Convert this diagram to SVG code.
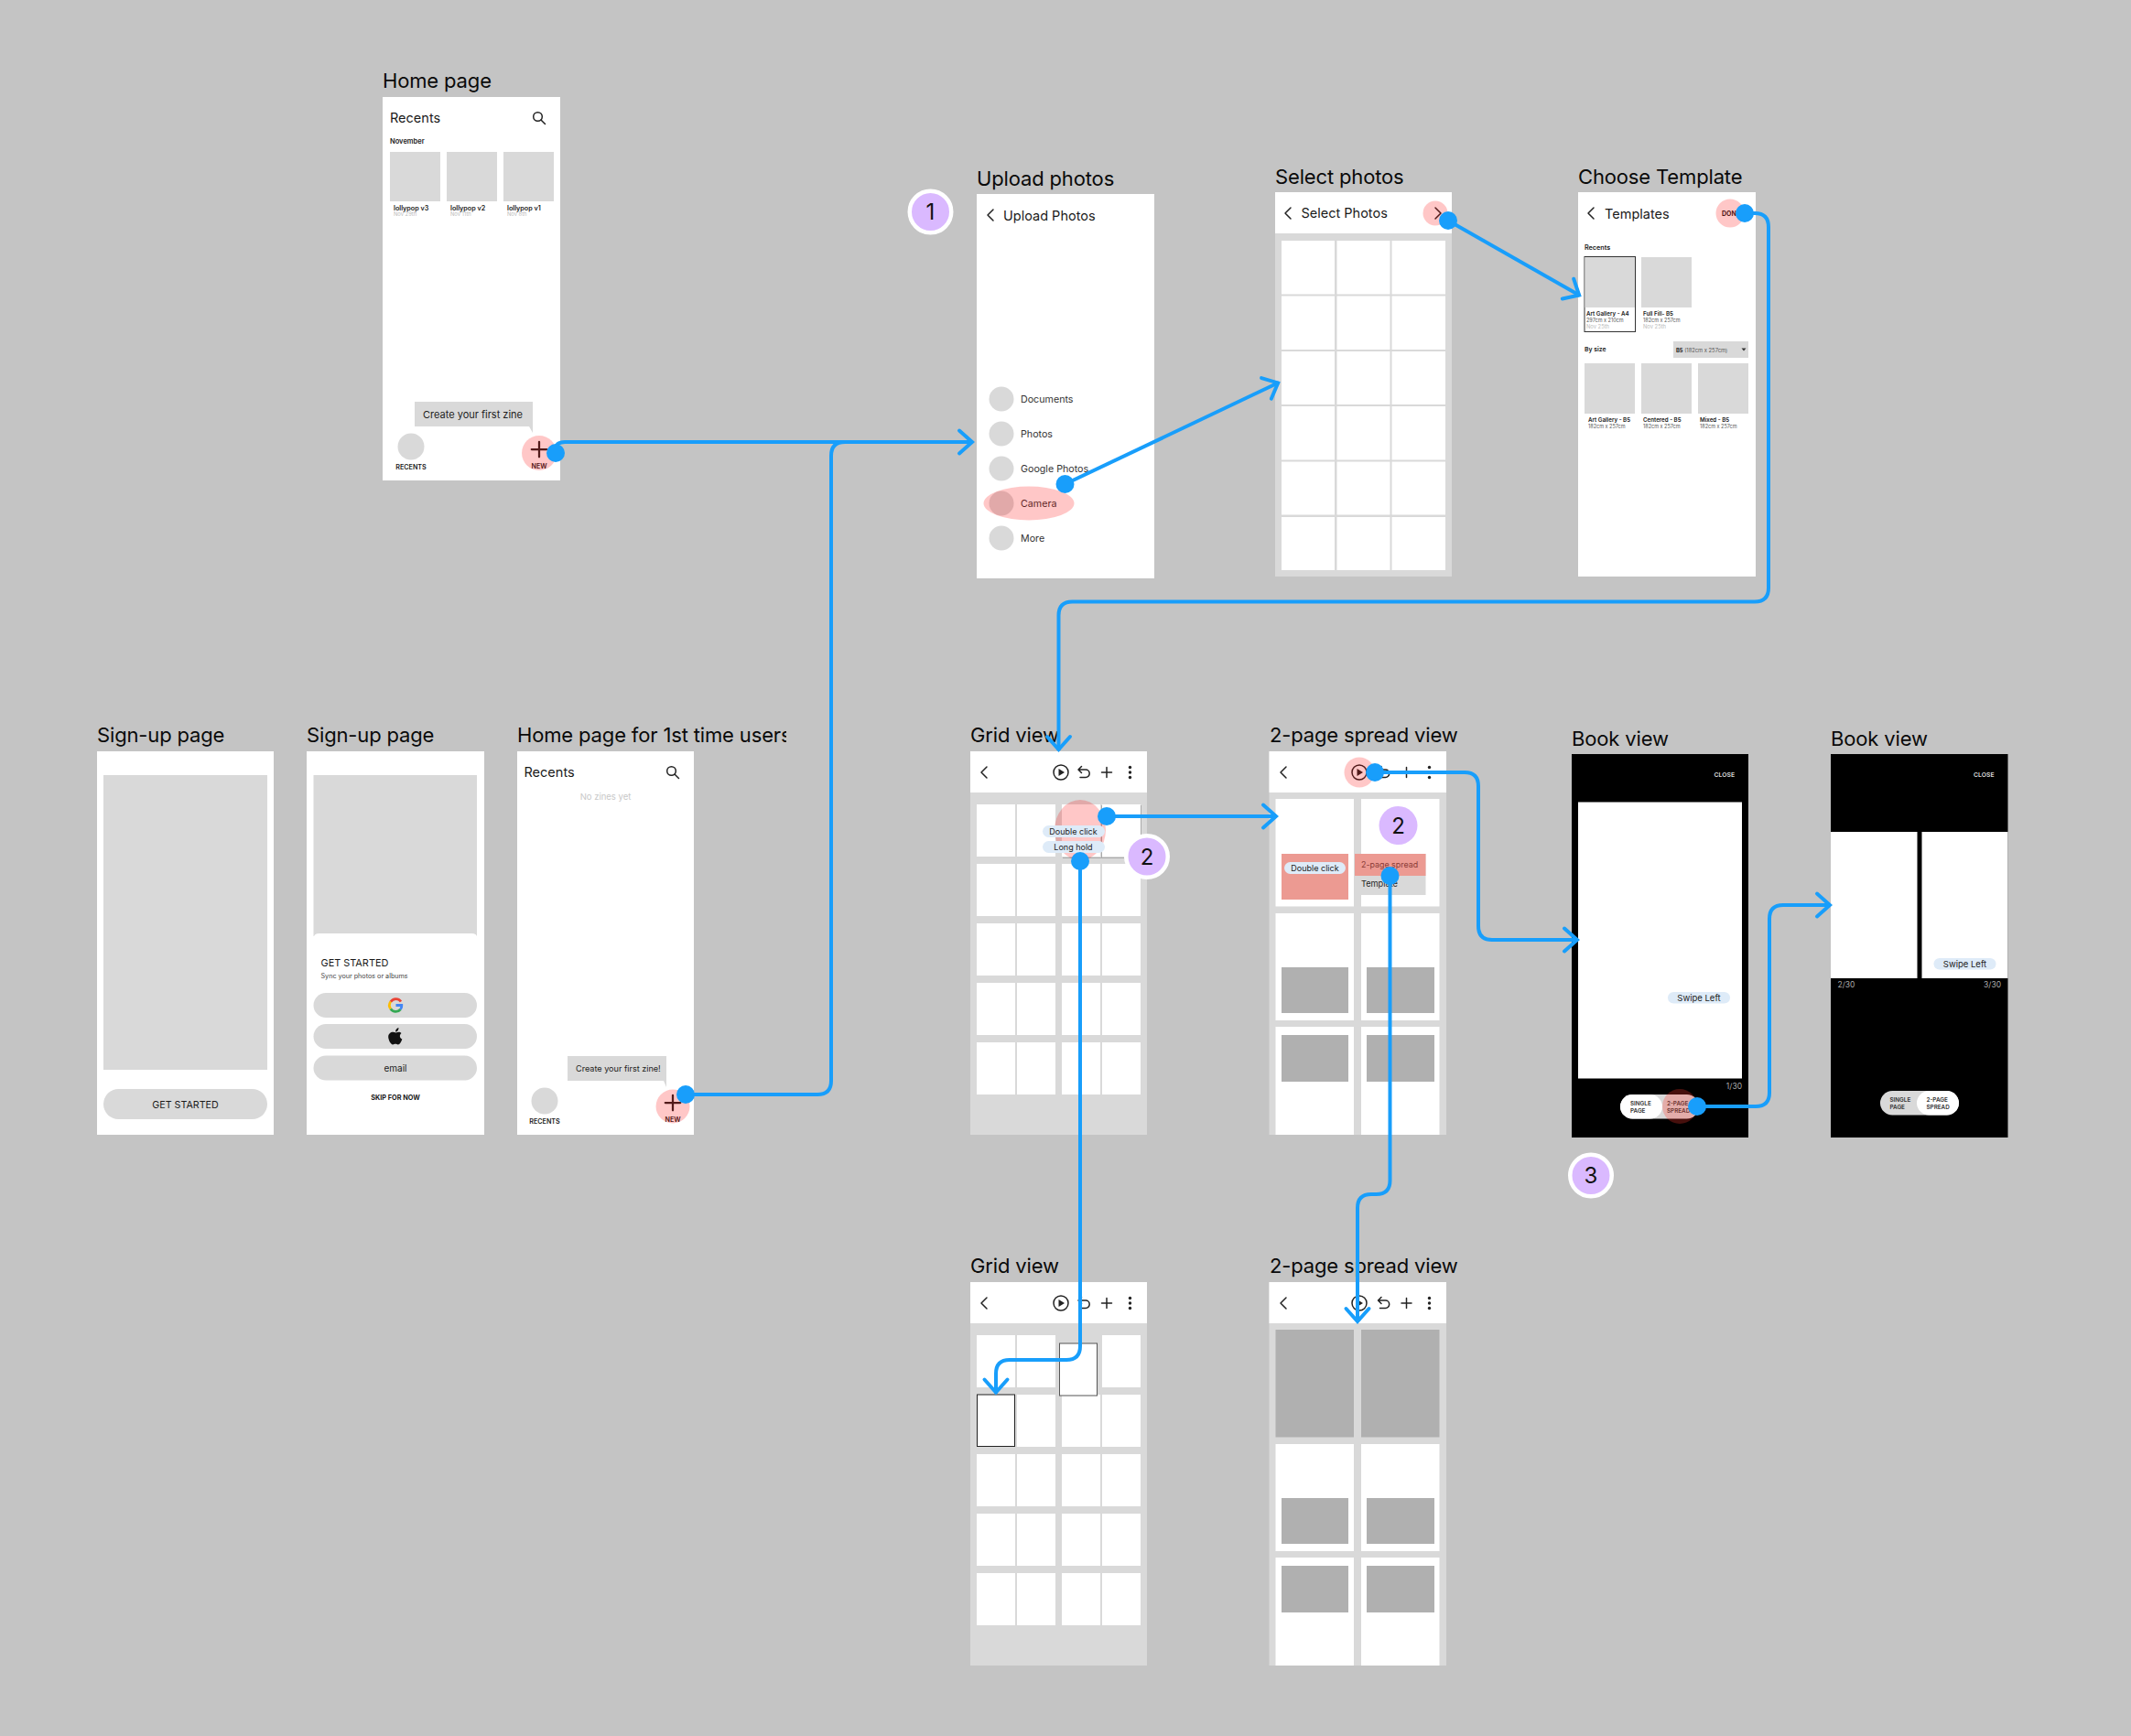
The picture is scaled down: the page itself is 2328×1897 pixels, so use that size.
<svg xmlns="http://www.w3.org/2000/svg" xmlns:xlink="http://www.w3.org/1999/xlink" width="2328" height="1897" viewBox="0 0 2328 1897">
<style>
text{font-family:"Inter","Liberation Sans",sans-serif;fill:#1a1a1a}
.t{font-size:22px;letter-spacing:-.15px;fill:#0a0a0a}
.h{font-size:14.5px}
.f{fill:#fff}
.g{fill:#d9d9d9}
.d{fill:#b0b0b0}
.r{fill:#ff0000;fill-opacity:.22}
.m{font-size:7.2px;font-weight:600}
.s{font-size:5.5px;fill:#555}
.n{font-size:5.8px;fill:#bbb}
.b{font-size:6.2px;font-weight:600}
.l{font-size:7.2px;font-weight:600}
.it{font-size:10.7px;fill:#333}
.p{fill:#deebf8}
.pt{font-size:9px;text-anchor:middle;fill:#222}
.sw{font-size:9.5px;text-anchor:middle;fill:#222}
.c{text-anchor:middle}
.w{font-size:6.8px;font-weight:600;fill:#ddd}
.pg{font-size:8.5px;fill:#aaa}
.tg{font-size:6.3px;font-weight:600;fill:#333}
.i{fill:none;stroke:#222;stroke-width:1.5;stroke-linecap:round;stroke-linejoin:round}
.bd{fill:#dab9ff;stroke:#fff;stroke-width:4.5}
.bt{font-size:24px;text-anchor:middle;fill:#111}
.cn{fill:none;stroke:#189efb;stroke-width:4;stroke-linejoin:round;marker-start:url(#dot);marker-end:url(#chev)}
</style>
<defs>
<marker id="dot" viewBox="-11 -11 22 22" refX="0" refY="0" markerWidth="22" markerHeight="22" markerUnits="userSpaceOnUse"><circle r="10" fill="#189efb"/></marker>
<marker id="chev" viewBox="-20 -16 24 32" refX="0" refY="0" markerWidth="24" markerHeight="32" markerUnits="userSpaceOnUse" orient="auto"><path d="M-15 -12.5L-1 0L-15 12.5" fill="none" stroke="#189efb" stroke-width="4" stroke-linecap="round"/></marker>
<g id="back"><path class="i" d="M4 -6L-2 0L4 6" stroke-width="1.6"/></g>
<g id="play"><circle class="i" r="8"/><path d="M-2.5 -4L4 0L-2.5 4Z" fill="#222"/></g>
<g id="undo"><path class="i" d="M-5.500 -3H2a4.200 4.200 0 0 1 0 8.400H-4M-2.500 -6.500L-6 -3L-2.500 .5"/></g>
<g id="plus"><path class="i" d="M-5.500 0H5.500M0 -5.500V5.500"/></g>
<g id="more"><circle cy="-5.500" r="1.700" fill="#222"/><circle r="1.700" fill="#222"/><circle cy="5.500" r="1.700" fill="#222"/></g>
<g id="search"><circle class="i" cx="-1.500" cy="-1.500" r="4.800"/><path class="i" d="M2 2L6.500 6.500"/></g>
<g id="gridrest">
<path class="f" d="M1067 944h42v57h-42zM1111 944h42v57h-42zM1160 944h42v57h-42zM1204 944h42v57h-42zM1067 1009h42v57h-42zM1111 1009h42v57h-42zM1160 1009h42v57h-42zM1204 1009h42v57h-42zM1067 1074h42v57h-42zM1111 1074h42v57h-42zM1160 1074h42v57h-42zM1204 1074h42v57h-42zM1067 1139h42v57h-42zM1111 1139h42v57h-42zM1160 1139h42v57h-42zM1204 1139h42v57h-42z"/>
</g>
<g id="spreadrest">
<path class="f" d="M1393.500 998h85.500v117h-85.500zM1487 998h85.500v117h-85.500zM1393.500 1122h85.500v118h-85.500zM1487 1122h85.500v118h-85.500z"/>
<path class="d" d="M1400 1057h73v50h-73zM1493 1057h74v50h-74zM1400 1131h73v51h-73zM1493 1131h74v51h-74z"/>
</g>
<clipPath id="clip3"><rect x="560" y="780" width="299" height="40"/></clipPath>
</defs>
<rect width="2328" height="1897" fill="#c4c4c4"/>

<g id="home-page">
<text class="t" x="418" y="96">Home page</text>
<rect class="f" x="418" y="106" width="194" height="419"/>
<text class="h" x="426" y="134">Recents</text>
<use href="#search" x="589" y="129"/>
<text x="426" y="157" style="font-size:7.5px;font-weight:600">November</text>
<rect class="g" x="426" y="166" width="55" height="54"/><rect class="g" x="488" y="166" width="55" height="54"/><rect class="g" x="550" y="166" width="55" height="54"/>
<text class="l" x="430" y="230">lollypop v3</text><text class="n" x="430" y="236">Nov 29th</text>
<text class="l" x="492" y="230">lollypop v2</text><text class="n" x="492" y="236">Nov 11th</text>
<text class="l" x="554" y="230">lollypop v1</text><text class="n" x="554" y="236">Nov 8th</text>
<path class="g" d="M453 439H582V473L578 466H453Z"/>
<text x="462" y="457" style="font-size:11px;fill:#222">Create your first zine</text>
<circle class="g" cx="449" cy="488" r="14.500"/>
<text class="m c" x="449" y="512.500">RECENTS</text>
<use href="#plus" transform="translate(589 491) scale(1.500)"/>
<text class="m c" x="589" y="512">NEW</text>
<circle class="r" cx="589" cy="495" r="19"/>
</g>

<g id="badge-1"><circle class="bd" cx="1016.500" cy="231.500" r="22.750"/><text class="bt" x="1016.500" y="240">1</text></g>

<g id="upload-photos">
<text class="t" x="1067" y="203">Upload photos</text>
<rect class="f" x="1067" y="212" width="194" height="420"/>
<use href="#back" x="1081" y="235"/>
<text class="h" x="1096" y="240.500">Upload Photos</text>
<circle class="g" cx="1094" cy="436" r="13.500"/><text class="it" x="1115" y="440">Documents</text>
<circle class="g" cx="1094" cy="474" r="13.500"/><text class="it" x="1115" y="478">Photos</text>
<circle class="g" cx="1094" cy="512" r="13.500"/><text class="it" x="1115" y="516">Google Photos</text>
<circle class="g" cx="1094" cy="550" r="13.500"/><text class="it" x="1115" y="554">Camera</text>
<circle class="g" cx="1094" cy="588" r="13.500"/><text class="it" x="1115" y="592">More</text>
<ellipse class="r" cx="1124" cy="550" rx="49.500" ry="18.500"/>
</g>

<g id="select-photos">
<text class="t" x="1393" y="201">Select photos</text>
<rect class="g" x="1393" y="210" width="193" height="420"/>
<rect class="f" x="1393" y="210" width="193" height="45"/>
<use href="#back" x="1406" y="233"/>
<text class="h" x="1421.500" y="238">Select Photos</text>
<path class="f" d="M1400 263h58v58.500h-58zM1460.500 263h58v58.500h-58zM1520.500 263h58.500v58.500h-58.500zM1400 323.500h58v58.500h-58zM1460.500 323.500h58v58.500h-58zM1520.500 323.500h58.500v58.500h-58.500zM1400 384h58v58h-58zM1460.500 384h58v58h-58zM1520.500 384h58.500v58h-58.500zM1400 444h58v58.500h-58zM1460.500 444h58v58.500h-58zM1520.500 444h58.500v58.500h-58.500zM1400 504.500h58v58h-58zM1460.500 504.500h58v58h-58zM1520.500 504.500h58.500v58h-58.500zM1400 565h58v58h-58zM1460.500 565h58v58h-58zM1520.500 565h58.500v58h-58.500z"/>
<path class="i" d="M1568 227L1574 233L1568 239"/>
<circle class="r" cx="1568" cy="233" r="13.500"/>
</g>

<g id="choose-template">
<text class="t" x="1724" y="201">Choose Template</text>
<rect class="f" x="1724" y="210" width="194" height="420"/>
<use href="#back" x="1737" y="233"/>
<text class="h" x="1753" y="238.500">Templates</text>
<text x="1881" y="236" style="font-size:7px;font-weight:700;fill:#222">DONE</text>
<circle class="r" cx="1890" cy="233" r="15.500"/>
<text class="m" x="1731" y="273">Recents</text>
<rect x="1731" y="280.500" width="55.500" height="82" fill="#fff" stroke="#333" stroke-width="1"/>
<rect class="g" x="1731.500" y="281" width="54.500" height="55"/>
<rect class="g" x="1793" y="281" width="55" height="55"/>
<text class="b" x="1733" y="345">Art Gallery - A4</text><text class="s" x="1733" y="352">297cm x 210cm</text><text class="n" x="1733" y="358.500">Nov 25th</text>
<text class="b" x="1795" y="345">Full Fill- B5</text><text class="s" x="1795" y="352">182cm x 257cm</text><text class="n" x="1795" y="358.500">Nov 25th</text>
<text x="1731" y="384" style="font-size:6.800px;font-weight:600">By size</text>
<rect class="g" x="1828" y="373" width="82" height="18"/>
<text x="1831" y="384.500" style="font-size:5.800px;fill:#555"><tspan font-weight="700" fill="#222">B5</tspan> (182cm x 257cm)</text>
<path d="M1902.500 380.500h5l-2.500 3z" fill="#333"/>
<rect class="g" x="1731" y="397" width="55" height="55"/><rect class="g" x="1793" y="397" width="55" height="55"/><rect class="g" x="1855" y="397" width="55" height="55"/>
<text class="b" x="1735" y="461">Art Gallery - B5</text><text class="s" x="1735" y="468">182cm x 257cm</text>
<text class="b" x="1795" y="461">Centered - B5</text><text class="s" x="1795" y="468">182cm x 257cm</text>
<text class="b" x="1857" y="461">Mixed - B5</text><text class="s" x="1857" y="468">182cm x 257cm</text>
</g>

<g id="signup-1">
<text class="t" x="106" y="811">Sign-up page</text>
<rect class="f" x="106" y="821" width="193" height="419"/>
<rect class="g" x="113" y="847" width="179" height="322"/>
<rect class="g" x="113" y="1190" width="179" height="33" rx="16.500"/>
<text class="c" x="202.500" y="1210.500" style="font-size:10.700px">GET STARTED</text>
</g>

<g id="signup-2">
<text class="t" x="335" y="811">Sign-up page</text>
<rect class="f" x="335" y="821" width="194" height="419"/>
<rect class="g" x="342.500" y="847" width="178.500" height="176"/>
<path class="f" d="M343 1024q0 -4 6 -4H515q6 0 6 4z"/>
<text x="350.500" y="1056" style="font-size:10.900px">GET STARTED</text>
<text x="350.500" y="1069" style="font-size:7.200px;fill:#444">Sync your photos or albums</text>
<rect class="g" x="342.500" y="1085" width="178.500" height="27" rx="13.500"/>
<rect class="g" x="342.500" y="1119" width="178.500" height="27" rx="13.500"/>
<rect class="g" x="342.500" y="1153.500" width="178.500" height="27" rx="13.500"/>
<g fill="none" stroke-width="2.800"><path d="M438 1094.500A6.800 6.800 0 0 0 426.800 1094.800" stroke="#ea4335"/><path d="M426.800 1094.500A6.800 6.800 0 0 0 426.800 1102.500" stroke="#fbbc05"/><path d="M426.800 1102.500A6.800 6.800 0 0 0 437.500 1103" stroke="#34a853"/><path d="M437.500 1103A6.800 6.800 0 0 0 438.800 1098.500H432.500" stroke="#4285f4"/></g>
<path d="M432.500 1128.500c2 -1 4.500 -1.300 6 .5c-2.500 1.800 -2 5.500 .8 6.500c-.8 2.500 -2.500 6 -4.500 6c-1 0 -1.500 -.7 -2.800 -.7s-1.800 .7 -2.800 .7c-2.500 0 -5 -5.500 -5 -8.500c0 -4.500 4.500 -6.500 8.300 -4.500zM432 1127.500c0 -2.500 1.700 -4 3.500 -4.500c.2 2.500 -1.500 4.500 -3.500 4.500z" fill="#111"/>
<text class="c" x="432" y="1170.500" style="font-size:10px">email</text>
<text class="c" x="432" y="1201.500" style="font-size:7.300px;font-weight:700">SKIP FOR NOW</text>
</g>

<g id="home-first">
<text class="t" x="565" y="811" clip-path="url(#clip3)">Home page for 1st time users</text>
<rect class="f" x="565" y="821" width="193" height="419"/>
<text class="h" x="572.500" y="849">Recents</text>
<use href="#search" x="735" y="844"/>
<text class="c" x="661.500" y="874" style="font-size:9.500px;fill:#c8c8c8">No zines yet</text>
<path class="g" d="M620 1154H728V1188L725 1181H620Z"/>
<text x="629" y="1171" style="font-size:9.100px;fill:#222">Create your first zine!</text>
<circle class="g" cx="595" cy="1203" r="14.500"/>
<text class="m c" x="595" y="1227.500">RECENTS</text>
<use href="#plus" transform="translate(735 1205) scale(1.500)"/>
<text class="m c" x="735" y="1226">NEW</text>
<circle class="r" cx="735" cy="1209" r="18.500"/>
</g>

<g id="grid-view-1">
<text class="t" x="1060" y="811">Grid view</text>
<rect class="g" x="1060" y="821" width="193" height="419"/>
<rect class="f" x="1060" y="821" width="193" height="45"/>
<use href="#back" x="1074" y="844"/><use href="#play" x="1159" y="844"/><use href="#undo" x="1184" y="844"/><use href="#plus" x="1209" y="844"/><use href="#more" x="1234.500" y="844"/>
<path class="f" d="M1067 879h42v57h-42zM1111 879h42v57h-42zM1160 879h42v57h-42zM1204 879h42v57h-42z"/>
<use href="#gridrest"/>
<path d="M1203.500 880V937M1246.500 880V937M1161 937.500H1228" stroke="#aaa" stroke-width="1" fill="none"/>
<ellipse class="r" cx="1180" cy="907" rx="28" ry="33"/>
<rect class="p" x="1139" y="902" width="68" height="13" rx="6.500"/><text class="pt" x="1172.500" y="911.500">Double click</text>
<rect class="p" x="1139" y="919" width="68" height="13" rx="6.500"/><text class="pt" x="1172.500" y="928.500">Long hold</text>
</g>
<g id="badge-2a"><circle class="bd" cx="1253" cy="936" r="22.750"/><text class="bt" x="1253" y="945">2</text></g>

<g id="spread-view-1">
<text class="t" x="1387" y="811">2-page spread view</text>
<rect class="g" x="1386.500" y="821" width="193.500" height="419"/>
<rect class="f" x="1386.500" y="821" width="193.500" height="45"/>
<use href="#back" x="1401" y="844"/><use href="#play" x="1485" y="844"/><use href="#undo" x="1511.500" y="844"/><use href="#plus" x="1536.500" y="844"/><use href="#more" x="1561.500" y="844"/>
<circle class="r" cx="1485" cy="844" r="16.500"/>
<path class="f" d="M1393.500 873h85.500v117.500h-85.500zM1487 873h85.500v117.500h-85.500z"/>
<use href="#spreadrest"/>
<rect x="1400" y="933" width="73" height="50" fill="#ec9a92"/>
<rect class="p" x="1403" y="942" width="67" height="13" rx="6.500"/><text class="pt" x="1436.500" y="951.500">Double click</text>
<rect class="g" x="1480" y="933" width="77.500" height="45"/>
<rect x="1480" y="933" width="77.500" height="24" fill="#ec9a92"/>
<text x="1487" y="948" style="font-size:8.900px;fill:#8a3a36">2-page spread</text>
<text x="1487" y="969" style="font-size:9.200px;fill:#222">Template</text>
<circle cx="1527.500" cy="902" r="21" fill="#dab9ff"/><text class="bt" x="1527.500" y="911">2</text>
</g>

<g id="grid-view-2">
<text class="t" x="1060" y="1391">Grid view</text>
<rect class="g" x="1060" y="1401" width="193" height="419"/>
<rect class="f" x="1060" y="1401" width="193" height="45"/>
<use href="#back" x="1074" y="1424"/><use href="#play" x="1159" y="1424"/><use href="#undo" x="1184" y="1424"/><use href="#plus" x="1209" y="1424"/><use href="#more" x="1234.500" y="1424"/>
<path class="f" d="M1067 1459h42v57h-42zM1111 1459h42v57h-42zM1204 1459h42v57h-42z"/>
<use href="#gridrest" y="580"/>
<rect x="1157.500" y="1468" width="41" height="57" fill="#fff" stroke="#555" stroke-width="1"/>
<rect x="1067.500" y="1524" width="41" height="56.500" fill="#fff" stroke="#222" stroke-width="1"/>
</g>

<g id="spread-view-2">
<text class="t" x="1387" y="1391">2-page spread view</text>
<rect class="g" x="1386.500" y="1401" width="193.500" height="419"/>
<rect class="f" x="1386.500" y="1401" width="193.500" height="45"/>
<use href="#back" x="1401" y="1424"/><use href="#play" x="1485" y="1424"/><use href="#undo" x="1511.500" y="1424"/><use href="#plus" x="1536.500" y="1424"/><use href="#more" x="1561.500" y="1424"/>
<path class="d" d="M1393.500 1453h85.500v117.500h-85.500zM1487 1453h85.500v117.500h-85.500z"/>
<use href="#spreadrest" y="580"/>
</g>

<g id="book-view-1">
<text class="t" x="1717" y="815">Book view</text>
<rect x="1717" y="824" width="193" height="419" fill="#000"/>
<rect class="f" x="1724" y="876.500" width="179" height="302"/>
<text class="w" x="1895" y="849" text-anchor="end">CLOSE</text>
<rect class="p" x="1822" y="1084" width="68" height="12.500" rx="6.250"/><text class="sw" x="1856" y="1093.800">Swipe Left</text>
<text class="pg" x="1903" y="1190" text-anchor="end">1/30</text>
<rect class="g" x="1770" y="1196" width="86" height="26.500" rx="13.250"/>
<rect class="f" x="1770" y="1196" width="46" height="26.500" rx="13.250"/>
<text class="tg" x="1781" y="1207.500">SINGLE</text><text class="tg" x="1781" y="1215.500">PAGE</text>
<text class="tg" x="1821" y="1207.500">2-PAGE</text><text class="tg" x="1821" y="1215.500">SPREAD</text>
<circle cx="1835" cy="1209" r="19" fill="#ff3a30" fill-opacity=".28"/>
</g>

<g id="book-view-2">
<text class="t" x="2000" y="815">Book view</text>
<rect x="2000" y="824" width="193.500" height="419" fill="#000"/>
<rect class="f" x="2000" y="909" width="94.500" height="160"/><rect class="f" x="2099.500" y="909" width="94" height="160"/>
<text class="w" x="2178.500" y="849" text-anchor="end">CLOSE</text>
<rect class="p" x="2112.500" y="1047" width="68" height="12.500" rx="6.250"/><text class="sw" x="2146.500" y="1056.800">Swipe Left</text>
<text class="pg" x="2007.500" y="1079">2/30</text><text class="pg" x="2186" y="1079" text-anchor="end">3/30</text>
<rect class="g" x="2054" y="1192" width="86" height="26.500" rx="13.250"/>
<rect class="f" x="2094" y="1192" width="46" height="26.500" rx="13.250"/>
<text class="tg" x="2064.500" y="1203.500">SINGLE</text><text class="tg" x="2064.500" y="1211.500">PAGE</text>
<text class="tg" x="2104.500" y="1203.500">2-PAGE</text><text class="tg" x="2104.500" y="1211.500">SPREAD</text>
</g>

<g id="badge-3"><circle class="bd" cx="1738" cy="1284.500" r="22.750"/><text class="bt" x="1738" y="1293">3</text></g>

<g id="connectors">
<path class="cn" d="M607 495V491Q607 483 617 483H1063"/>
<path class="cn" d="M749 1196H893Q908 1196 908 1181V498Q908 483 923 483H1063" style="marker-end:none"/>
<path class="cn" d="M1163.500 529L1397 418"/>
<path class="cn" d="M1582 241L1726 323"/>
<path class="cn" d="M1906 233H1917Q1932 233 1932 248V642.500Q1932 657.500 1917 657.500H1171.500Q1156.500 657.500 1156.500 672.500V820"/>
<path class="cn" d="M1209 892H1395"/>
<path class="cn" d="M1502 844H1600Q1615 844 1615 859V1012Q1615 1027 1630 1027H1724"/>
<path class="cn" d="M1854 1209H1918Q1933 1209 1933 1194V1004Q1933 989 1948 989H2000"/>
<path class="cn" d="M1180 941V1471Q1180 1486 1165 1486H1103Q1088 1486 1088 1501V1522.500"/>
<path class="cn" d="M1518.500 957V1290Q1518.500 1305 1503.500 1305H1498Q1483 1305 1483 1320V1445"/>
</g>
</svg>
